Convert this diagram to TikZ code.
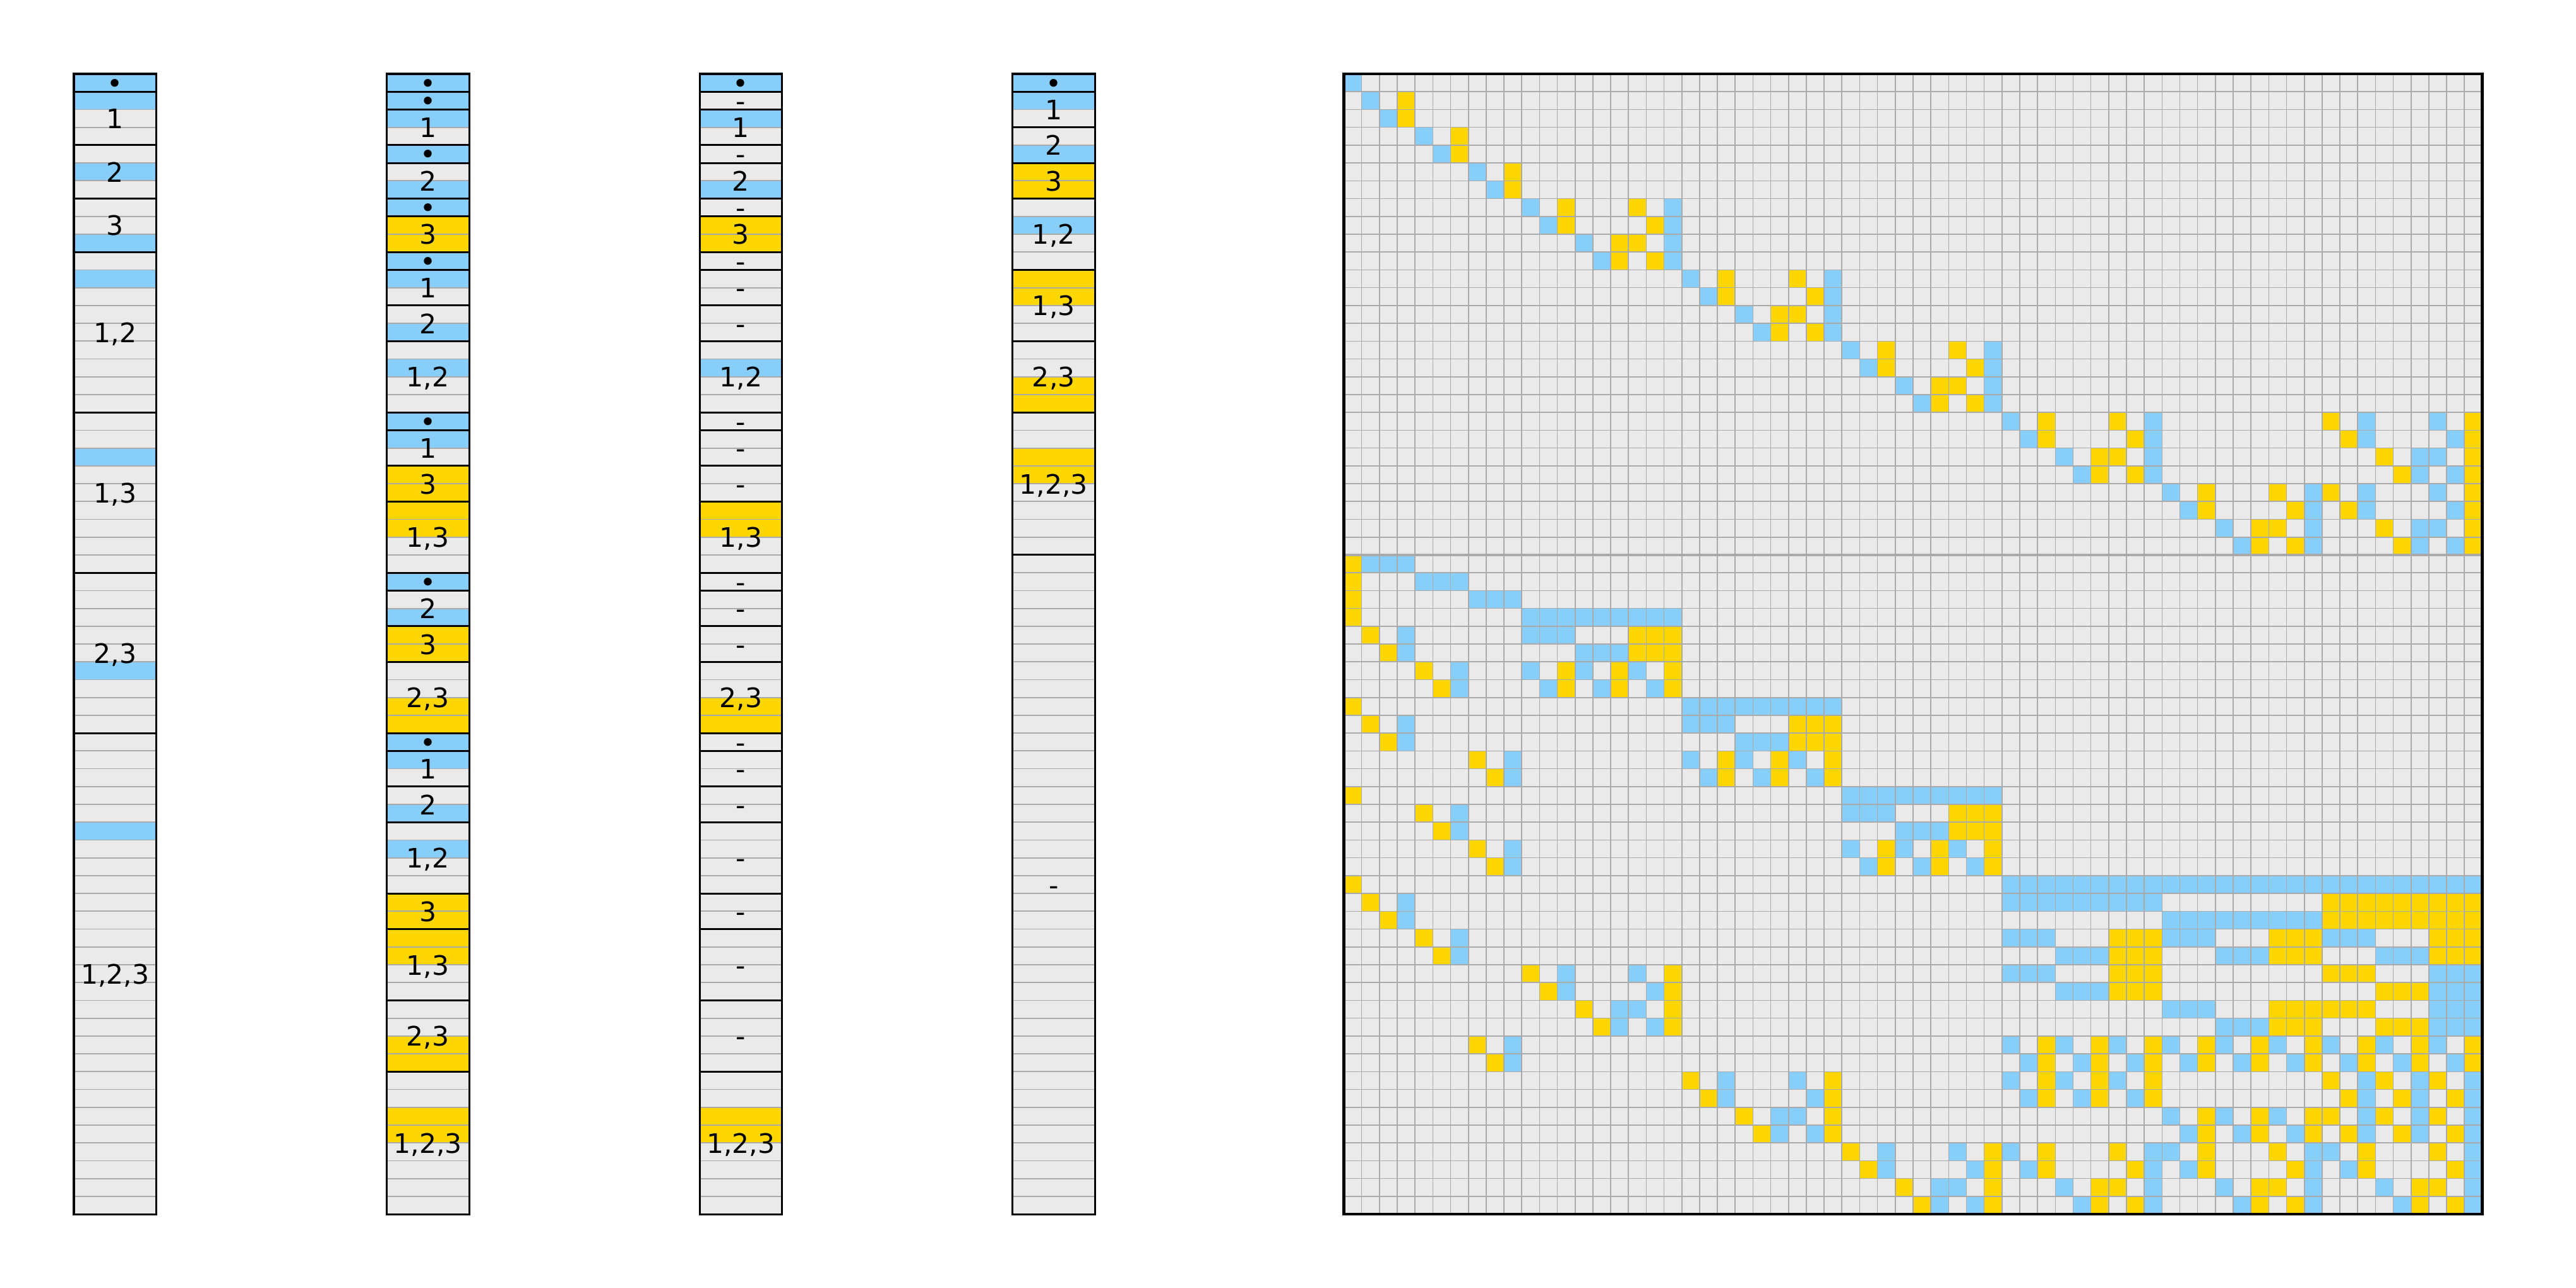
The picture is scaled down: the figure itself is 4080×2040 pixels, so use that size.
\documentclass[tikz,border=0pt]{standalone}
\usepackage{fontspec}
\setmainfont{DejaVu Sans}
\definecolor{cblue}{HTML}{87CEFA}
\definecolor{cgold}{HTML}{FFD700}
\definecolor{cbg}{HTML}{EAEAEA}
\definecolor{cgrid}{HTML}{AAAAAA}
\tikzset{
  gridline/.style={draw=cgrid, line width=0.45pt},
  sepline/.style={draw=cgrid, line width=0.9pt},
  rowline/.style={draw=cgrid, line width=0.5pt},
  blockline/.style={draw=black, line width=0.85pt},
  sframe/.style={draw=black, line width=0.85pt},
  mframe/.style={draw=black, line width=1.2pt},
  lab/.style={anchor=base, inner sep=0pt, font=\fontsize{12}{14}\selectfont},
}
\def\rh{28.22}
\def\cw{28.17}
\def\mx{2128.5}
\def\my{117}
\def\sw{130.5}
\newcommand\stripbg[1]{\fill[cbg] (#1,\my) rectangle ++(\sw,64*\rh);}
\newcommand\striprows[3]{\foreach \rowi in {#3} \fill[#1] (#2,\my+\rowi*\rh) rectangle ++(\sw,\rh);}
\newcommand\stripfin[4]{%
  \foreach \rowi in {1,...,63} \draw[rowline] (#2,\my+\rowi*\rh) -- ++(\sw,0);
  \foreach \rowi in {#3} \draw[blockline] (#2,\my+\rowi*\rh) -- ++(\sw,0);
  \draw[sframe] (#2,\my) rectangle ++(\sw,64*\rh);
  \foreach \posv/\txt [count=\k] in {#4} \node[lab] (#1-\k) at (#2+0.5*\sw,\my+\posv*\rh+16) {\txt};
}
\begin{document}
\begin{tikzpicture}[x=0.28235pt, y=-0.28235pt]
\useasboundingbox (0,0) rectangle (4080,2040);
% ---------- strip 1
\stripbg{117}
\striprows{cblue}{117}{0,1,5,9,11,21,33,42}
\stripfin{sa}{117}{1,4,7,10,19,28,37}{0.5/•,2.5/1,5.5/2,8.5/3,14.5/{1,2},23.5/{1,3},32.5/{2,3},50.5/{1,2,3}}
% ---------- strip 2
\stripbg{612.5}
\striprows{cblue}{612.5}{0,1,2,4,6,7,10,11,14,16,19,20,28,30,37,38,41,43}
\striprows{cgold}{612.5}{8,9,22,23,24,25,31,32,35,36,46,47,48,49,54,55,58,59}
\stripfin{sb}{612.5}{1,2,4,5,7,8,10,11,13,15,19,20,22,24,28,29,31,33,37,38,40,42,46,48,52,56}{0.5/•,1.5/•,3/1,4.5/•,6/2,7.5/•,9/3,10.5/•,12/1,14/2,17/{1,2},19.5/•,21/1,23/3,26/{1,3},28.5/•,30/2,32/3,35/{2,3},37.5/•,39/1,41/2,44/{1,2},47/3,50/{1,3},54/{2,3},60/{1,2,3}}
% ---------- strip 3
\stripbg{1108}
\striprows{cblue}{1108}{0,2,6,16}
\striprows{cgold}{1108}{8,9,24,25,35,36,58,59}
\stripfin{sc}{1108}{1,2,4,5,7,8,10,11,13,15,19,20,22,24,28,29,31,33,37,38,40,42,46,48,52,56}{0.5/•,1.5/-,3/1,4.5/-,6/2,7.5/-,9/3,10.5/-,12/-,14/-,17/{1,2},19.5/-,21/-,23/-,26/{1,3},28.5/-,30/-,32/-,35/{2,3},37.5/-,39/-,41/-,44/-,47/-,50/-,54/-,60/{1,2,3}}
% ---------- strip 4
\stripbg{1603.5}
\striprows{cblue}{1603.5}{0,1,4,8}
\striprows{cgold}{1603.5}{5,6,11,12,17,18,21,22}
\stripfin{sd}{1603.5}{1,3,5,7,11,15,19,27}{0.5/•,2/1,4/2,6/3,9/{1,2},13/{1,3},17/{2,3},23/{1,2,3},45.5/-}
% ---------- matrix
\fill[cbg] (\mx,\my) rectangle ++(64*\cw,64*\rh);
\foreach \rowi/\cl in {0/{0},1/{1},2/{2},3/{4},4/{5},5/{7},6/{8},
  7/{10,18},8/{11,18},9/{13,18},10/{14,18},
  11/{19,27},12/{20,27},13/{22,27},14/{23,27},
  15/{28,36},16/{29,36},17/{31,36},18/{32,36},
  19/{37,45,57,61},20/{38,45,57,62},21/{40,45,60,61},22/{41,45,60,62},
  23/{46,54,57,61},24/{47,54,57,62},25/{49,54,60,61},26/{50,54,60,62},
  27/{1,2,3},28/{4,5,6},29/{7,8,9},30/{10,11,...,18},
  31/{3,10,11,12},32/{3,13,14,15},33/{6,10,13,16},34/{6,11,14,17},
  35/{19,20,...,27},36/{3,19,20,21},37/{3,22,23,24},38/{9,19,22,25},39/{9,20,23,26},
  40/{28,29,...,36},41/{6,28,29,30},42/{6,31,32,33},43/{9,28,31,34},44/{9,29,32,35},
  45/{37,38,...,63},46/{3,37,38,...,45},47/{3,46,47,...,54},
  48/{6,37,38,39,46,47,48,55,56,57},49/{6,40,41,42,49,50,51,58,59,60},
  50/{12,16,37,38,39,61,62,63},51/{12,17,40,41,42,61,62,63},
  52/{15,16,46,47,48,61,62,63},53/{15,17,49,50,51,61,62,63},
  54/{9,37,40,43,46,49,52,55,58,61},55/{9,38,41,44,47,50,53,56,59,62},
  56/{21,25,37,40,43,57,60,63},57/{21,26,38,41,44,57,60,63},
  58/{24,25,46,49,52,57,60,63},59/{24,26,47,50,53,57,60,63},
  60/{30,34,37,45,46,54,55,63},61/{30,35,38,45,47,54,56,63},
  62/{33,34,40,45,49,54,58,63},63/{33,35,41,45,50,54,59,63}}
  {\foreach \coli in \cl {\fill[cblue] (\mx+\coli*\cw,\my+\rowi*\rh) rectangle ++(\cw,\rh);}}
\foreach \rowi/\cl in {1/{3},2/{3},3/{6},4/{6},5/{9},6/{9},
  7/{12,16},8/{12,17},9/{15,16},10/{15,17},
  11/{21,25},12/{21,26},13/{24,25},14/{24,26},
  15/{30,34},16/{30,35},17/{33,34},18/{33,35},
  19/{39,43,55,63},20/{39,44,56,63},21/{42,43,58,63},22/{42,44,59,63},
  23/{48,52,55,63},24/{48,53,56,63},25/{51,52,58,63},26/{51,53,59,63},
  27/{0},28/{0},29/{0},30/{0},
  31/{1,16,17,18},32/{2,16,17,18},33/{4,12,15,18},34/{5,12,15,18},
  35/{0},36/{1,25,26,27},37/{2,25,26,27},38/{7,21,24,27},39/{8,21,24,27},
  40/{0},41/{4,34,35,36},42/{5,34,35,36},43/{7,30,33,36},44/{8,30,33,36},
  45/{0},46/{1,55,56,...,63},47/{2,55,56,...,63},
  48/{4,43,44,45,52,53,54,61,62,63},49/{5,43,44,45,52,53,54,61,62,63},
  50/{10,18,43,44,45,55,56,57},51/{11,18,43,44,45,58,59,60},
  52/{13,18,52,53,54,55,56,57},53/{14,18,52,53,54,58,59,60},
  54/{7,39,42,45,48,51,54,57,60,63},55/{8,39,42,45,48,51,54,57,60,63},
  56/{19,27,39,42,45,55,58,61},57/{20,27,39,42,45,56,59,62},
  58/{22,27,48,51,54,55,58,61},59/{23,27,48,51,54,56,59,62},
  60/{28,36,39,43,48,52,57,61},61/{29,36,39,44,48,53,57,62},
  62/{31,36,42,43,51,52,60,61},63/{32,36,42,44,51,53,60,62}}
  {\foreach \coli in \cl {\fill[cgold] (\mx+\coli*\cw,\my+\rowi*\rh) rectangle ++(\cw,\rh);}}
\foreach \i in {1,...,63} {
  \draw[gridline] (\mx+\i*\cw,\my) -- ++(0,64*\rh);
  \draw[gridline] (\mx,\my+\i*\rh) -- ++(64*\cw,0);
}
\draw[sepline] (\mx,\my+27*\rh) -- ++(64*\cw,0);
\draw[mframe] (\mx,\my) rectangle ++(64*\cw,64*\rh);
\end{tikzpicture}
\end{document}
